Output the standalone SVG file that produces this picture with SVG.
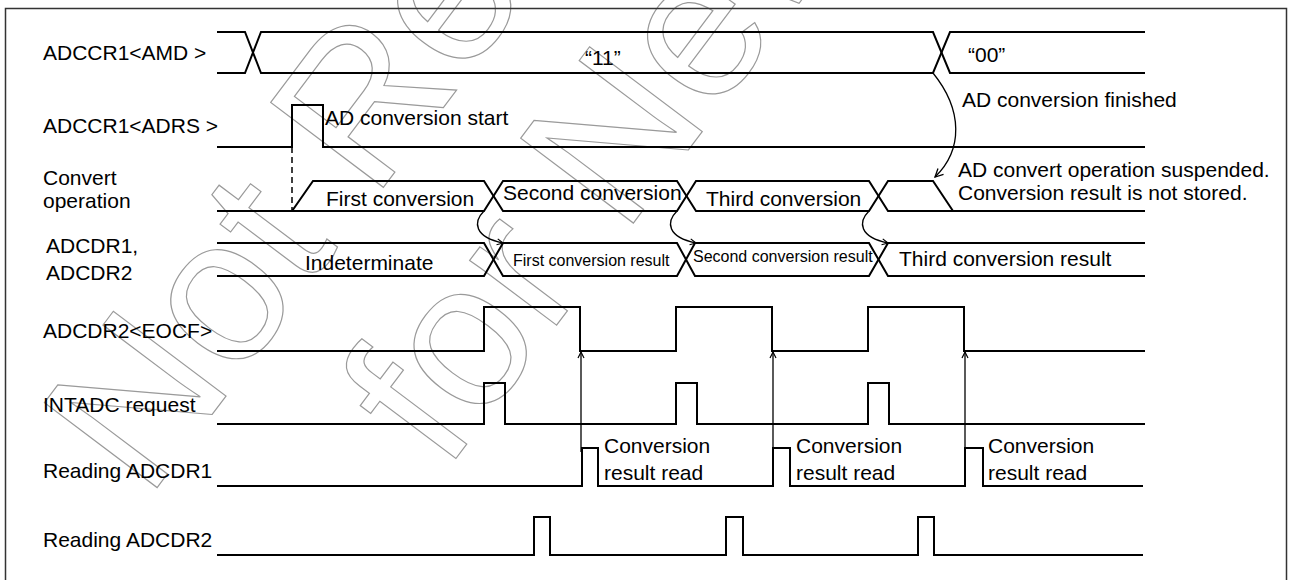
<svg xmlns="http://www.w3.org/2000/svg" width="1291" height="580" viewBox="0 0 1291 580">
<defs>
<style>
.sig{fill:none;stroke:#000;stroke-width:2;stroke-linejoin:miter}
.thin{fill:none;stroke:#000;stroke-width:1.3}
.lbl{font-family:"Liberation Sans",Arial,sans-serif;font-size:21px;fill:#000}
.sm{font-size:16px}
.wm{font-family:"Liberation Sans",Arial,sans-serif;font-size:205px;fill:none;stroke:#9a9a9a;stroke-width:1.2}
</style>
<marker id="ah" markerUnits="userSpaceOnUse" markerWidth="12" markerHeight="12" refX="9" refY="5" orient="auto">
<path d="M1,1 L9,5 L1,9" fill="none" stroke="#000" stroke-width="1.3"/>
</marker>
<marker id="ahs" markerUnits="userSpaceOnUse" markerWidth="10" markerHeight="10" refX="7" refY="4" orient="auto">
<path d="M1,1 L7,4 L1,7" fill="none" stroke="#000" stroke-width="1.2"/>
</marker>
</defs>
<rect width="1291" height="580" fill="#fff"/>
<g id="watermark">
<text class="wm" transform="translate(147,501) rotate(-53)">Not Re</text>
<text class="wm" transform="translate(445,473) rotate(-53)">for New</text>
</g>
<rect x="5.5" y="8.5" width="1281" height="590" fill="none" stroke="#333" stroke-width="1.5"/>
<g id="amd">
<text class="lbl" x="43" y="60">ADCCR1&lt;AMD &gt;</text>
<path class="sig" d="M217,32 H245 L261,73 H933 L950,32 H1145"/>
<path class="sig" d="M217,73 H245 L261,32 H933 L950,73 H1145"/>
<text class="lbl" x="585" y="65">“11”</text>
<text class="lbl" x="968" y="62">“00”</text>
<text class="lbl" x="962" y="107">AD conversion finished</text>
</g>
<g id="adrs">
<text class="lbl" x="43" y="133">ADCCR1&lt;ADRS &gt;</text>
<path class="sig" d="M217,147 H292 V105 H323 V147 H1145"/>
<text class="lbl" x="325" y="125">AD conversion start</text>
</g>
<g id="convop">
<text class="lbl" x="43" y="185">Convert</text>
<text class="lbl" x="43" y="208">operation</text>
<path class="sig" d="M217,211 H292 L313,181 H484 L503,211 H677 L696,181 H869 L888,211 H1145"/>
<path class="sig" d="M292,211 H484 L503,181 H677 L696,211 H869 L888,181 H933 L953,211"/>
<text class="lbl" x="326" y="206">First conversion</text>
<text class="lbl" x="503" y="200">Second conversion</text>
<text class="lbl" x="706" y="206">Third conversion</text>
<text class="lbl" x="958" y="177">AD convert operation suspended.</text>
<text class="lbl" x="958" y="200">Conversion result is not stored.</text>
</g>
<g id="adcdr">
<text class="lbl" x="46" y="253">ADCDR1,</text>
<text class="lbl" x="46" y="280">ADCDR2</text>
<path class="sig" d="M217,243 H484 L503,276 H677 L695,243 H869 L888,276 H1145"/>
<path class="sig" d="M217,276 H484 L503,243 H677 L695,276 H869 L888,243 H1145"/>
<text class="lbl" x="305" y="270">Indeterminate</text>
<text class="lbl sm" x="513" y="266">First conversion result</text>
<text class="lbl sm" x="693" y="262">Second conversion result</text>
<text class="lbl" x="899" y="266">Third conversion result</text>
</g>
<g id="eocf">
<text class="lbl" x="43" y="338">ADCDR2&lt;EOCF&gt;</text>
<path class="sig" d="M217,351 H484 V307 H580 V351 H676 V307 H772 V351 H868 V307 H964 V351 H1145"/>
</g>
<g id="intadc">
<text class="lbl" x="43" y="412">INTADC request</text>
<path class="sig" d="M217,424 H484 V383 H505 V424 H676 V383 H697 V424 H868 V383 H889 V424 H1145"/>
</g>
<g id="rd1">
<text class="lbl" x="43" y="478">Reading ADCDR1</text>
<path class="sig" d="M217,486 H582 V448 H598 V486 H773 V448 H790 V486 H965 V448 H983 V486 H1143"/>
<text class="lbl" x="604" y="453">Conversion</text>
<text class="lbl" x="604" y="480">result read</text>
<text class="lbl" x="796" y="453">Conversion</text>
<text class="lbl" x="796" y="480">result read</text>
<text class="lbl" x="988" y="453">Conversion</text>
<text class="lbl" x="988" y="480">result read</text>
</g>
<g id="rd2">
<text class="lbl" x="43" y="547">Reading ADCDR2</text>
<path class="sig" d="M217,555 H534 V517 H550 V555 H726 V517 H743 V555 H918 V517 H934 V555 H1143"/>
</g>
<g id="connectors">
<path d="M292,147 V211" fill="none" stroke="#000" stroke-width="1.5" stroke-dasharray="6,4"/>
<path class="thin" d="M933,73 C963,110 963,150 935,177" marker-end="url(#ah)"/>
<path class="thin" d="M484,211 C473,222 474,237 503,243" marker-end="url(#ahs)"/>
<path class="thin" d="M677,211 C666,222 667,237 696,243" marker-end="url(#ahs)"/>
<path class="thin" d="M869,211 C858,222 859,237 888,243" marker-end="url(#ahs)"/>
<path class="thin" d="M581,452 V352" marker-end="url(#ahs)"/>
<path class="thin" d="M773,452 V352" marker-end="url(#ahs)"/>
<path class="thin" d="M965,452 V352" marker-end="url(#ahs)"/>
</g>
</svg>
